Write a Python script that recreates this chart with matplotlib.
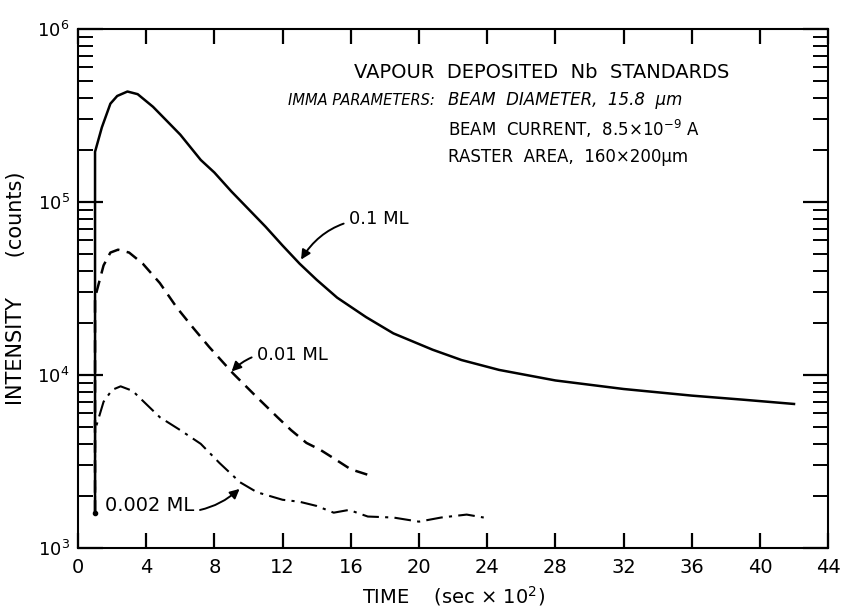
import matplotlib
matplotlib.use('Agg')
import matplotlib.pyplot as plt
from matplotlib.ticker import LogLocator, MultipleLocator, NullFormatter

# Intensity vs time for three vapour deposited Nb standards
t_01 = [1.0, 1.0, 1.4, 1.9, 2.3, 2.9, 3.5, 4.4, 5.2, 6.0, 7.2, 8.0, 9.0, 10.0, 11.0, 12.0, 13.0,
        14.0, 15.2, 16.9, 18.5, 20.8, 22.5, 24.7, 28.0, 32.0, 36.0, 39.0, 42.0]
i_01 = [1600, 1.95e5, 2.7e5, 3.7e5, 4.1e5, 4.35e5, 4.2e5, 3.55e5, 2.95e5, 2.45e5, 1.75e5, 1.48e5,
        1.15e5, 9.1e4, 7.2e4, 5.6e4, 4.4e4, 3.55e4, 2.8e4, 2.16e4, 1.74e4, 1.4e4, 1.22e4, 1.07e4,
        9.3e3, 8.3e3, 7.6e3, 7.2e3, 6.8e3]

t_001 = [1.0, 1.0, 1.5, 1.9, 2.35, 3.0, 3.8, 4.8, 5.8, 6.8, 7.7, 9.1, 10.4, 11.7, 12.5, 13.4,
         14.2, 15.0, 16.0, 17.0]
i_001 = [1600, 2.8e4, 4.3e4, 5.1e4, 5.3e4, 5.1e4, 4.4e4, 3.4e4, 2.45e4, 1.85e4, 1.45e4, 1.02e4,
         7.6e3, 5.7e3, 4.8e3, 4.05e3, 3.7e3, 3.3e3, 2.85e3, 2.65e3]

t_0002 = [1.0, 1.0, 1.5, 2.0, 2.5, 3.2, 4.2, 4.8, 6.0, 7.2, 8.3, 9.5, 10.5, 12.0, 13.0, 14.0,
          15.0, 15.9, 17.0, 18.5, 20.0, 21.3, 22.8, 23.8]
i_0002 = [1600, 4.8e3, 7.0e3, 8.2e3, 8.6e3, 8.1e3, 6.5e3, 5.7e3, 4.8e3, 4.0e3, 3.1e3, 2.4e3,
          2.1e3, 1.9e3, 1.85e3, 1.75e3, 1.6e3, 1.66e3, 1.52e3, 1.5e3, 1.42e3, 1.5e3, 1.56e3, 1.5e3]

fig = plt.figure(figsize=(8.45, 6.14), dpi=100)
ax = fig.add_axes([0.0923, 0.1075, 0.8877, 0.8453])

ax.plot(t_01, i_01, color='black', lw=1.8, ls='-')
ax.plot(t_001, i_001, color='black', lw=1.8, ls=(0, (5, 3)))
ax.plot(t_0002, i_0002, color='black', lw=1.5, ls=(0, (8, 3, 1.5, 3)))
ax.plot([t_0002[0]], [i_0002[0]], 'o', color='black', ms=3)

ax.set_yscale('log')
ax.set_xlim(0, 44)
ax.set_ylim(1e3, 1e6)

# axes styling
for sp in ax.spines.values():
    sp.set_linewidth(1.5)
ax.xaxis.set_major_locator(MultipleLocator(4))
ax.yaxis.set_major_locator(LogLocator(base=10, numticks=10))
ax.yaxis.set_minor_locator(LogLocator(base=10, subs=range(2, 10), numticks=10))
ax.yaxis.set_minor_formatter(NullFormatter())
ax.tick_params(axis='x', which='major', direction='in', top=True, length=11, width=1.6,
               labelsize=14, pad=7)
ax.tick_params(axis='y', which='major', direction='in', right=True, length=18, width=1.6,
               labelsize=13, pad=6)
ax.tick_params(axis='y', which='minor', direction='in', right=True, length=11, width=1.4)

ax.set_xlabel('TIME    (sec \u00d7 10$^2$)', fontsize=14, labelpad=5)
ax.set_ylabel('INTENSITY      (counts)', fontsize=15, labelpad=8)

# header text
ax.text(0.869, 0.917, 'VAPOUR  DEPOSITED  Nb  STANDARDS', transform=ax.transAxes,
        ha='right', va='center', fontsize=14)
ax.text(0.475, 0.863, 'IMMA PARAMETERS:', transform=ax.transAxes,
        ha='right', va='center', fontsize=10.5, style='italic')
ax.text(0.493, 0.863, 'BEAM  DIAMETER,  15.8  \u03bcm', transform=ax.transAxes,
        ha='left', va='center', fontsize=12, style='italic')
ax.text(0.493, 0.807, 'BEAM  CURRENT,  8.5\u00d710$^{-9}$ A', transform=ax.transAxes,
        ha='left', va='center', fontsize=12)
ax.text(0.493, 0.753, 'RASTER  AREA,  160\u00d7200\u03bcm', transform=ax.transAxes,
        ha='left', va='center', fontsize=12)

# curve labels with arrows
arrow = dict(arrowstyle='-|>', color='black', lw=1.4, mutation_scale=14)
ax.annotate('0.1 ML', xy=(13.0, 4.5e4), xytext=(15.9, 8.0e4), fontsize=13,
            ha='left', va='center',
            arrowprops=dict(arrow, connectionstyle='arc3,rad=0.3'))
ax.annotate('0.01 ML', xy=(8.9, 1.02e4), xytext=(10.5, 1.3e4), fontsize=13,
            ha='left', va='center',
            arrowprops=dict(arrow, connectionstyle='arc3,rad=0.3'))
ax.annotate('0.002 ML', xy=(9.6, 2.25e3), xytext=(1.6, 1.75e3), fontsize=14,
            ha='left', va='center',
            arrowprops=dict(arrow, connectionstyle='arc3,rad=0.3'))

fig.savefig('out.png', dpi=100)
